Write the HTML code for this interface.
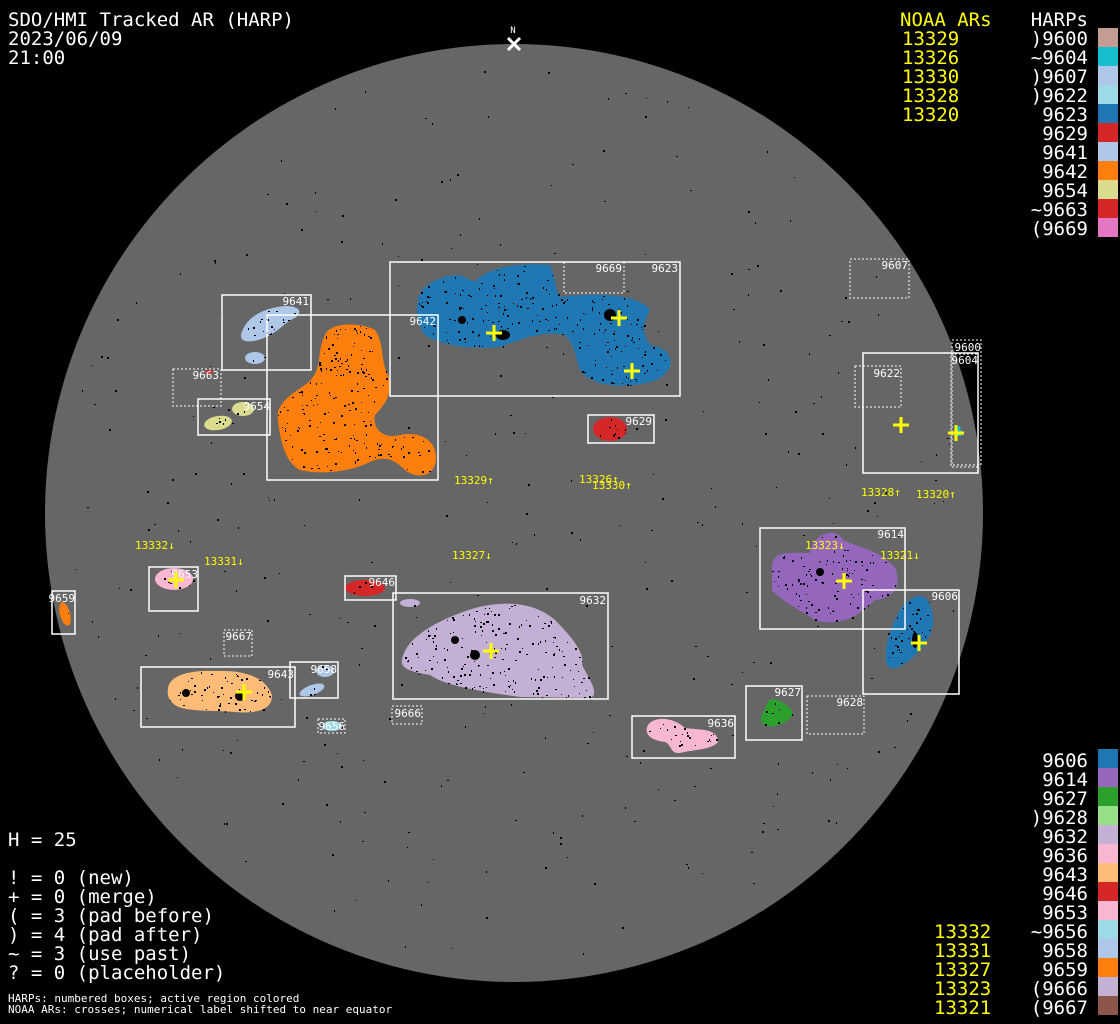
<!DOCTYPE html>
<html><head><meta charset="utf-8"><style>
html,body{margin:0;padding:0;background:#000;width:1120px;height:1024px;overflow:hidden}
svg{display:block}
text{font-family:"DejaVu Sans Mono","Liberation Mono",monospace}
</style></head><body>
<svg id="s" width="1120" height="1024" viewBox="0 0 1120 1024" xmlns="http://www.w3.org/2000/svg">
<rect width="1120" height="1024" fill="#000"/>
<circle cx="514" cy="513" r="469" fill="#666"/>
<g id="sp"></g>
<g id="blobs">
<path fill="#1f77b4" d="M418,300 C420,285 440,275 460,275 L475,282 C485,270 510,262 550,265 C555,275 555,290 560,297 C600,292 640,295 650,310 C645,320 640,330 650,345 C680,350 675,375 650,382 C620,390 590,385 580,370 C575,355 575,345 565,335 C540,330 520,340 500,347 C470,350 440,345 425,335 C418,325 415,310 418,300 Z"/>
<path fill="#ff7f0e" d="M325,335 C330,322 360,322 375,330 C385,345 380,360 388,375 C395,390 385,405 375,415 C372,425 380,440 400,435 C425,430 440,445 435,465 C430,478 415,478 405,470 C395,460 385,455 370,462 C350,472 320,475 300,470 C285,462 280,440 278,420 C275,405 290,395 305,385 C325,370 315,355 325,335 Z"/>
<path fill="#aec7e8" d="M241,335 C245,318 262,308 285,306 C300,306 303,312 295,318 C285,322 280,330 270,335 C258,342 240,345 241,335 Z"/>
<ellipse cx="255" cy="358" rx="10" ry="6" fill="#aec7e8"/>
<ellipse cx="218" cy="423" rx="14" ry="7" fill="#dbdb8d" transform="rotate(-10 218 423)"/>
<ellipse cx="243" cy="409" rx="11" ry="7" fill="#dbdb8d"/>
<ellipse cx="209" cy="372" rx="4" ry="2" fill="#d62728"/>
<ellipse cx="610" cy="429" rx="17" ry="12" fill="#d62728"/>
<path fill="#17becf" d="M955,427 L960,426 L962,436 L955,436 Z"/>
<path fill="#9467bd" d="M772,565 C775,550 790,553 810,553 C812,535 835,525 843,540 C860,548 880,550 895,568 C902,585 895,598 875,600 C860,615 840,628 815,620 C800,610 780,600 772,590 Z"/>
<path fill="#1f77b4" d="M900,610 C910,595 925,590 930,605 C938,625 930,640 915,655 C905,665 890,675 886,662 C884,645 892,625 900,610 Z"/>
<ellipse cx="174" cy="579" rx="19" ry="11" fill="#f7b6d2"/>
<ellipse cx="365" cy="588" rx="20" ry="8" fill="#d62728"/>
<ellipse cx="65" cy="614" rx="5" ry="12" fill="#ff7f0e" transform="rotate(-15 65 614)"/>
<path fill="#c5b0d5" d="M402,660 C405,640 430,625 455,615 C490,600 530,598 555,620 C575,640 585,655 582,665 C590,680 600,695 590,698 L520,697 C470,690 445,685 430,675 C410,672 400,668 402,660 Z"/>
<ellipse cx="410" cy="603" rx="10" ry="4" fill="#c5b0d5"/>
<path fill="#ffbb78" d="M168,688 C170,675 190,670 215,671 C240,670 265,675 272,695 C273,710 255,714 235,712 C210,710 185,712 175,705 C168,700 167,694 168,688 Z"/>
<ellipse cx="325" cy="671" rx="9" ry="6" fill="#aec7e8"/>
<ellipse cx="312" cy="690" rx="13" ry="5" fill="#aec7e8" transform="rotate(-20 312 690)"/>
<ellipse cx="332" cy="726" rx="10" ry="5" fill="#9edae5"/>
<path fill="#2ca02c" d="M768,702 C772,696 780,700 790,708 C796,714 790,722 775,726 C765,728 758,722 762,715 Z"/>
<path fill="#f7b6d2" d="M648,725 C655,715 675,718 685,728 C700,730 718,728 718,742 C712,750 690,750 680,753 C670,754 672,745 665,742 C648,740 644,732 648,725 Z"/>
</g>
<g id="dk" fill="#000">
<ellipse cx="503" cy="335" rx="7" ry="5"/><circle cx="610" cy="315" r="6"/><circle cx="462" cy="320" r="4"/>
<circle cx="475" cy="655" r="5"/><circle cx="455" cy="640" r="4"/>
<circle cx="240" cy="696" r="5"/><circle cx="186" cy="693" r="4"/><ellipse cx="915" cy="640" rx="3" ry="8"/>
<circle cx="820" cy="572" r="4"/>
</g>
<g fill="none" stroke="#fff" stroke-width="1.5">
<rect x="390" y="262" width="290" height="134"/>
<rect x="222" y="295" width="89" height="75"/>
<rect x="267" y="315" width="171" height="165"/>
<rect x="198" y="399" width="72" height="36"/>
<rect x="588" y="415" width="66" height="28"/>
<rect x="863" y="353" width="115" height="120"/>
<rect x="760" y="528" width="145" height="101"/>
<rect x="863" y="590" width="96" height="104"/>
<rect x="149" y="567" width="49" height="44"/>
<rect x="345" y="576" width="51" height="24"/>
<rect x="52" y="591" width="23" height="43"/>
<rect x="393" y="593" width="215" height="106"/>
<rect x="141" y="667" width="154" height="60"/>
<rect x="290" y="662" width="48" height="36"/>
<rect x="746" y="686" width="56" height="54"/>
<rect x="632" y="716" width="103" height="42"/>
</g>
<g fill="none" stroke="#fff" stroke-width="1" stroke-dasharray="2,2">
<rect x="564" y="262" width="60" height="31"/>
<rect x="173" y="369" width="48" height="37"/>
<rect x="850" y="259" width="59" height="39"/>
<rect x="952" y="340" width="29" height="125"/>
<rect x="951" y="354" width="27" height="113"/>
<rect x="855" y="366" width="46" height="41"/>
<rect x="224" y="630" width="28" height="26"/>
<rect x="392" y="706" width="30" height="18"/>
<rect x="318" y="719" width="27" height="14"/>
<rect x="807" y="696" width="57" height="38"/>
</g>
<g fill="#fff" font-size="11" text-anchor="end">
<text x="622" y="272">9669</text><text x="678" y="272">9623</text>
<text x="309" y="305">9641</text><text x="436" y="325">9642</text>
<text x="219" y="379">9663</text><text x="270" y="410">9654</text>
<text x="652" y="425">9629</text><text x="908" y="269">9607</text>
<text x="981" y="351">9600</text><text x="978" y="364">9604</text>
<text x="900" y="377">9622</text><text x="904" y="538">9614</text>
<text x="958" y="600">9606</text><text x="198" y="578">9653</text>
<text x="395" y="586">9646</text><text x="75" y="602">9659</text>
<text x="606" y="604">9632</text><text x="252" y="640">9667</text>
<text x="294" y="678">9643</text><text x="337" y="673">9658</text>
<text x="421" y="717">9666</text><text x="345" y="730">9656</text>
<text x="801" y="696">9627</text><text x="863" y="706">9628</text>
<text x="734" y="727">9636</text>
</g>
<g stroke="#ff0" stroke-width="3">
<path d="M486,333h16M494,325v16M611,318h16M619,310v16M624,371h16M632,363v16M893,425h16M901,417v16M948,433h16M956,425v16M836,581h16M844,573v16M911,643h16M919,635v16M168,580h16M176,572v16M236,692h16M244,684v16M483,651h16M491,643v16"/>
</g>
<g fill="#ff0" font-size="11">
<text x="454" y="484">13329↑</text><text x="579" y="483">13326↑</text><text x="592" y="489">13330↑</text>
<text x="861" y="496">13328↑</text><text x="916" y="498">13320↑</text>
<text x="135" y="549">13332↓</text><text x="204" y="565">13331↓</text><text x="452" y="559">13327↓</text>
<text x="805" y="549">13323↓</text><text x="880" y="559">13321↓</text>
</g>
<text x="513" y="33" fill="#fff" font-size="9" text-anchor="middle">N</text>
<path d="M508,38l12,12M520,38l-12,12" stroke="#fff" stroke-width="3"/>
<g fill="#fff" font-size="19">
<text x="8" y="26">SDO/HMI Tracked AR (HARP)</text>
<text x="8" y="45">2023/06/09</text>
<text x="8" y="64">21:00</text>
<text x="8" y="846">H = 25</text>
<text x="8" y="884">! = 0 (new)</text>
<text x="8" y="903">+ = 0 (merge)</text>
<text x="8" y="922">( = 3 (pad before)</text>
<text x="8" y="941">) = 4 (pad after)</text>
<text x="8" y="960">~ = 3 (use past)</text>
<text x="8" y="979">? = 0 (placeholder)</text>
</g>
<g fill="#fff" font-size="11">
<text x="8" y="1002">HARPs: numbered boxes; active region colored</text>
<text x="8" y="1013">NOAA ARs: crosses; numerical label shifted to near equator</text>
</g>
<g fill="#ff0" font-size="19">
<text x="900" y="26">NOAA ARs</text>
<text x="902" y="45">13329</text><text x="902" y="64">13326</text><text x="902" y="83">13330</text><text x="902" y="102">13328</text><text x="902" y="121">13320</text>
<text x="934" y="938">13332</text><text x="934" y="957">13331</text><text x="934" y="976">13327</text><text x="934" y="995">13323</text><text x="934" y="1014">13321</text>
</g>
<g fill="#fff" font-size="19" text-anchor="end">
<text x="1088" y="26">HARPs</text>
<text x="1088" y="45">)9600</text><text x="1088" y="64">~9604</text><text x="1088" y="83">)9607</text><text x="1088" y="102">)9622</text>
<text x="1088" y="121">9623</text><text x="1088" y="140">9629</text><text x="1088" y="159">9641</text><text x="1088" y="178">9642</text>
<text x="1088" y="197">9654</text><text x="1088" y="216">~9663</text><text x="1088" y="235">(9669</text>
<text x="1088" y="767">9606</text><text x="1088" y="786">9614</text><text x="1088" y="805">9627</text><text x="1088" y="824">)9628</text>
<text x="1088" y="843">9632</text><text x="1088" y="862">9636</text><text x="1088" y="881">9643</text><text x="1088" y="900">9646</text>
<text x="1088" y="919">9653</text><text x="1088" y="938">~9656</text><text x="1088" y="957">9658</text><text x="1088" y="976">9659</text>
<text x="1088" y="995">(9666</text><text x="1088" y="1014">(9667</text>
</g>
<g>
<rect x="1098" y="28" width="20" height="19" fill="#c49c94"/>
<rect x="1098" y="47" width="20" height="19" fill="#17becf"/>
<rect x="1098" y="66" width="20" height="19" fill="#aec7e8"/>
<rect x="1098" y="85" width="20" height="19" fill="#9edae5"/>
<rect x="1098" y="104" width="20" height="19" fill="#1f77b4"/>
<rect x="1098" y="123" width="20" height="19" fill="#d62728"/>
<rect x="1098" y="142" width="20" height="19" fill="#aec7e8"/>
<rect x="1098" y="161" width="20" height="19" fill="#ff7f0e"/>
<rect x="1098" y="180" width="20" height="19" fill="#dbdb8d"/>
<rect x="1098" y="199" width="20" height="19" fill="#d62728"/>
<rect x="1098" y="218" width="20" height="19" fill="#e377c2"/>
<rect x="1098" y="749" width="20" height="19" fill="#1f77b4"/>
<rect x="1098" y="768" width="20" height="19" fill="#9467bd"/>
<rect x="1098" y="787" width="20" height="19" fill="#2ca02c"/>
<rect x="1098" y="806" width="20" height="19" fill="#98df8a"/>
<rect x="1098" y="825" width="20" height="19" fill="#c5b0d5"/>
<rect x="1098" y="844" width="20" height="19" fill="#f7b6d2"/>
<rect x="1098" y="863" width="20" height="19" fill="#ffbb78"/>
<rect x="1098" y="882" width="20" height="19" fill="#d62728"/>
<rect x="1098" y="901" width="20" height="19" fill="#f7b6d2"/>
<rect x="1098" y="920" width="20" height="19" fill="#9edae5"/>
<rect x="1098" y="939" width="20" height="19" fill="#aec7e8"/>
<rect x="1098" y="958" width="20" height="19" fill="#ff7f0e"/>
<rect x="1098" y="977" width="20" height="19" fill="#c5b0d5"/>
<rect x="1098" y="996" width="20" height="19" fill="#8c564b"/>
</g>
</svg>
<script>
(function(){
var s=1234567;
function r(){s=(s*1103515245+12345)%2147483648;return s/2147483648;}
var sp=document.getElementById("sp"),dk=document.getElementById("dk");
var h="";
for(var i=0;i<350;i++){var a=r()*6.2832,d=Math.sqrt(r())*450;var x=514+Math.cos(a)*d,y=513+Math.sin(a)*d;
h+='<rect x="'+x.toFixed(0)+'" y="'+y.toFixed(0)+'" width="'+(r()<0.5?1:2)+'" height="'+(r()<0.5?1:2)+'" fill="#000"/>';}
sp.innerHTML=h;
var ps=document.getElementById("blobs").children,h2="";
var svg=document.getElementById("s");
for(var k=0;k<ps.length;k++){var b=ps[k].getBBox();var n=Math.floor(b.width*b.height/70);
for(var j=0;j<n;j++){var x=b.x+r()*b.width,y=b.y+r()*b.height;
try{var pt=svg.createSVGPoint();pt.x=x;pt.y=y;if(!ps[k].isPointInFill(pt))continue;}catch(e){continue;}
h2+='<rect x="'+x.toFixed(0)+'" y="'+y.toFixed(0)+'" width="'+(1+Math.floor(r()*2))+'" height="'+(1+Math.floor(r()*2))+'"/>';}}
dk.innerHTML+=h2;
})();
</script>
</body></html>
